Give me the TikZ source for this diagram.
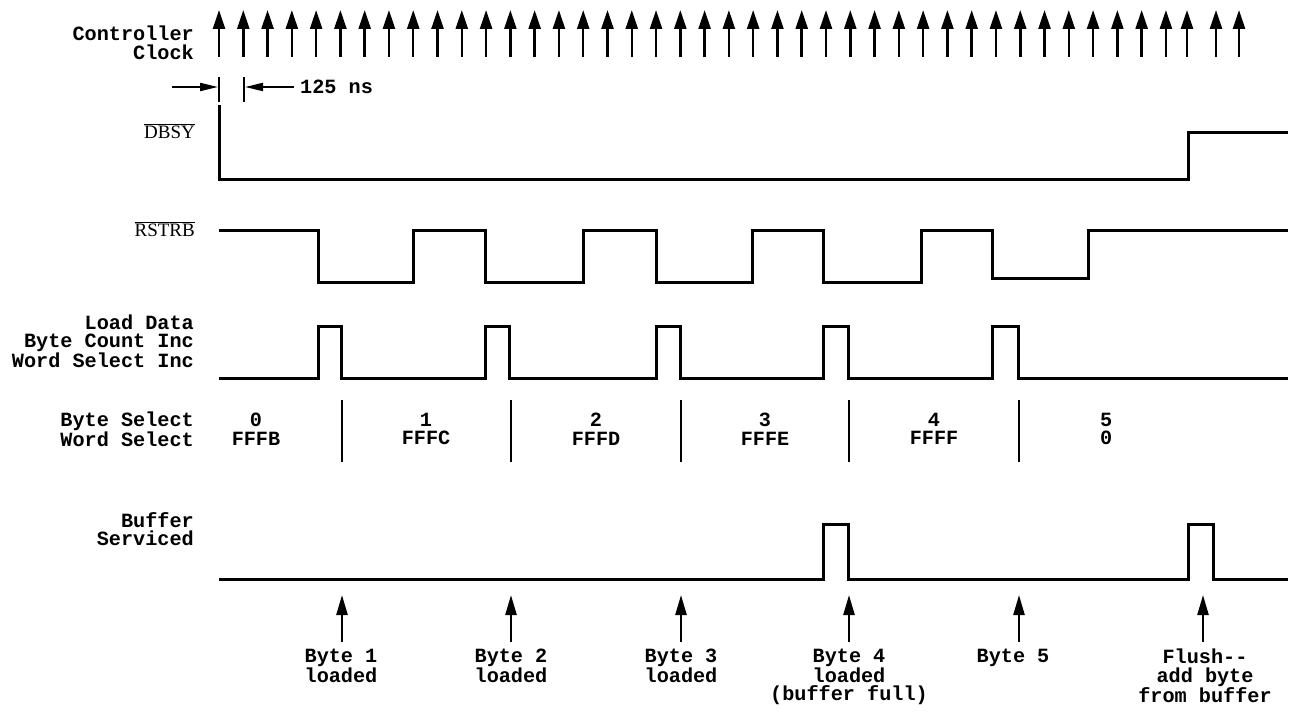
\documentclass[tikz,border=0pt]{standalone}
\usepackage{fontspec}
\setmonofont{Liberation Mono}
\newfontfamily\sigfont{Liberation Serif}
\usetikzlibrary{arrows.meta}
\begin{document}
\begin{tikzpicture}[x=1pt,y=-1pt,
  txt/.style={font=\ttfamily\bfseries\fontsize{20.2}{18.5}\selectfont, inner sep=0pt},
  lbl/.style={txt, align=right, anchor=east},
  val/.style={txt, align=center},
  note/.style={txt, align=center, anchor=north},
  sgl/.style={lbl, font=\sigfont\fontsize{19}{19}\selectfont},
  sig/.style={line width=3pt, line join=miter, line cap=butt},
  clk/.style={line width=2.5pt, -{Triangle[length=19pt,width=12pt]}},
  evt/.style={line width=2.5pt, -{Triangle[length=20pt,width=11pt]}},
  dim/.style={line width=2pt, -{Triangle[length=18pt,width=8pt]}},
  sep/.style={line width=2pt}]
\useasboundingbox (0,0) rectangle (1301,714);

% labels
\node[lbl] (lclk) at (194,43) {Controller\\Clock};
\node[sgl] (ldbsy) at (195,131) {$\overline{\mbox{DBSY}}$};
\node[sgl] (lrstrb) at (195,229) {$\overline{\mbox{RSTRB}}$};
\node[lbl] (lload) at (194,341) {Load Data\\Byte Count Inc\\Word Select Inc};
\node[lbl] (lsel) at (194,429) {Byte Select\\Word Select};
\node[lbl] (lbuf) at (194,529) {Buffer\\Serviced};

% clock arrows
\foreach \k in {0,...,39} {
  \coordinate (cb\k) at ({219+24.28*\k},57);
  \coordinate (ct\k) at ({219+24.28*\k},10);
  \draw[clk] (cb\k) -- (ct\k);
}
\foreach \xx/\n in {1187/a,1216/b,1239/c} {
  \coordinate (cb\n) at (\xx,57);
  \coordinate (ct\n) at (\xx,10);
  \draw[clk] (cb\n) -- (ct\n);
}

% 125 ns dimension
\coordinate (t1a) at (219,77); \coordinate (t1b) at (219,102);
\coordinate (t2a) at (244,77); \coordinate (t2b) at (244,102);
\draw[sep] (t1a) -- (t1b);
\draw[sep] (t2a) -- (t2b);
\coordinate (d1s) at (172,87); \coordinate (d1e) at (218,87);
\coordinate (d2e) at (245,87);
\node[txt, anchor=west] (ns) at (300,87) {125 ns};
\draw[dim] (d1s) -- (d1e);
\draw[dim] (ns.west) ++(-6,0) coordinate (d2s) (d2s) -- (d2e);

% DBSY
\draw[sig] (219,105) -- (219,180) -- (1188,180) -- (1188,133) -- (1288,133);

% RSTRB
\draw[sig] (219,231) -- (318,231) -- (318,282) -- (413,282) -- (413,231)
  -- (485,231) -- (485,282) -- (583,282) -- (583,231)
  -- (656,231) -- (656,282) -- (752,282) -- (752,231)
  -- (823,231) -- (823,282) -- (921,282) -- (921,231)
  -- (992,231) -- (992,278) -- (1088,278) -- (1088,231) -- (1288,231);

% Load data
\draw[sig] (219,378) -- (318,378) -- (318,326) -- (341,326) -- (341,378)
  -- (485,378) -- (485,326) -- (509,326) -- (509,378)
  -- (656,378) -- (656,326) -- (680,326) -- (680,378)
  -- (823,378) -- (823,326) -- (848,326) -- (848,378)
  -- (992,378) -- (992,326) -- (1018,326) -- (1018,378) -- (1288,378);

% Byte select separators and values
\foreach \xx/\n in {342/1,511/2,681/3,849/4,1019/5} {
  \coordinate (st\n) at (\xx,400);
  \coordinate (sb\n) at (\xx,462);
  \draw[sep] (st\n) -- (sb\n);
}
\node[val] (v0) at (256,429) {0\\FFFB};
\node[val] (v1) at (426,429) {1\\FFFC};
\node[val] (v2) at (596,429) {2\\FFFD};
\node[val] (v3) at (765,429) {3\\FFFE};
\node[val] (v4) at (934,429) {4\\FFFF};
\node[txt, align=left, anchor=west] (v5) at (1100,429) {5\\0};

% Buffer serviced
\draw[sig] (219,579) -- (823,579) -- (823,524) -- (848,524) -- (848,579)
  -- (1188,579) -- (1188,524) -- (1213,524) -- (1213,579) -- (1288,579);

% event notes
\node[note] (n1) at (341,649) {Byte 1\\loaded};
\node[note] (n2) at (511,649) {Byte 2\\loaded};
\node[note] (n3) at (681,649) {Byte 3\\loaded};
\node[note] (n4) at (849,649) {Byte 4\\loaded\\(buffer full)};
\node[note] (n5) at (1013,649) {Byte 5};
\node[note] (n6) at (1205,649) {Flush--\\add byte\\from buffer};
\foreach \n/\xx in {1/342,2/511,3/681,4/849,5/1019,6/1203} {
  \coordinate (eb\n) at (\xx,642);
  \coordinate (et\n) at (\xx,595);
  \draw[evt] (eb\n) -- (et\n);
}
\end{tikzpicture}
\end{document}
